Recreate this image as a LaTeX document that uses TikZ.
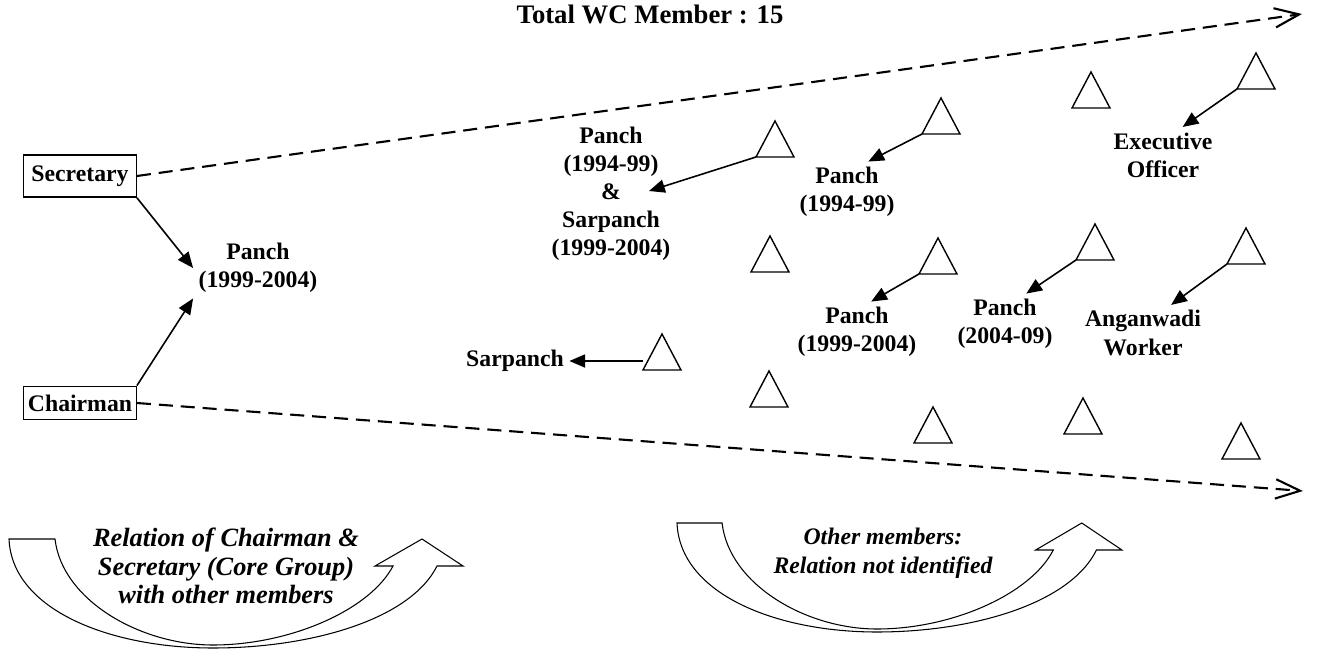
\documentclass[tikz,border=0pt]{standalone}
\usepackage{fontspec}
\setmainfont{Liberation Serif}
\usetikzlibrary{arrows.meta}
\tikzset{
  member/.pic={
    \draw[line width=0.8pt] (0,0) -- (19,-36) -- (38,0) -- cycle;
    \coordinate (-bl) at (0,0);
    \coordinate (-side) at (0,-9);
  },
  bigarrow/.pic={
    \draw[line width=0.6pt] (0,0) -- (46,0)
      .. controls (53,61) and (131,106) .. (204,106)
      .. controls (281,106) and (361,71) .. (384,27)
      -- (366,27) -- (413,0) -- (454,27) -- (428,27)
      .. controls (401,81) and (301,109) .. (204,109)
      .. controls (101,109) and (3,71) .. (0,0) -- cycle;
  }
}

\begin{document}
\begin{tikzpicture}[
      x=0.02cm, y=-0.02cm,
      every node/.style={font=\fontsize{13.5}{16}\selectfont\bfseries,align=center,inner sep=3pt},
      role/.style={draw,line width=0.8pt,inner xsep=2pt,minimum width=64pt,minimum height=19pt},
      link/.style={-{Triangle[length=9pt,width=7.5pt]},line width=0.9pt},
      reach/.style={line width=1.2pt,dash pattern=on 8pt off 4.5pt,-{Straight Barb[length=14pt,width=11pt]}},
      note/.style={font=\fontsize{13.5}{16.4}\selectfont\bfseries\itshape}
    ]
      \useasboundingbox (0,0) rectangle (1333,649);

      \node[font=\fontsize{15.2}{18}\selectfont\bfseries] (title) at (650,14) {Total WC Member : 15};

      % core group
      \node[role,minimum height=24pt] (sec) at (80,176) {Secretary};
      \node[role] (chair) at (80,403) {Chairman};
      \node (p0) at (258,268) {Panch\\(1999-2004)};

      % other members
      \pic (tA) at (756,157) {member};
      \pic (tB) at (751,272) {member};
      \pic (tC) at (643,370) {member};
      \pic (tD) at (750,407) {member};
      \pic (tE) at (922,134) {member};
      \pic (tF) at (1072,108) {member};
      \pic (tG) at (1237,89) {member};
      \pic (tH) at (919,274) {member};
      \pic (tI) at (1076,260) {member};
      \pic (tJ) at (1227,264) {member};
      \pic (tK) at (914,443) {member};
      \pic (tL) at (1064,434) {member};
      \pic (tM) at (1222,459) {member};

      \node (p1) at (611,194) {Panch\\(1994-99)\\\&\\Sarpanch\\(1999-2004)};
      \node (sarp) at (515,361) {Sarpanch};
      \node (p2) at (847,192) {Panch\\(1994-99)};
      \node (exec) at (1163,155) {Executive\\Officer};
      \node (p3) at (857,332) {Panch\\(1999-2004)};
      \node (p4) at (1005,324) {Panch\\(2004-09)};
      \node (angan) at (1143,333) {Anganwadi\\Worker};

      \coordinate (topend) at (1302,14);
      \coordinate (botend) at (1303,491);
      \draw[reach] (sec.east) -- (topend);
      \draw[reach] (chair.east) -- (botend);

      \draw[link] (sec.south east) -- (p0.west);
      \draw[link] (chair.north east) -- (p0.south west);
      \draw[link] (tA-bl) -- ([xshift=0.76cm,yshift=0.06cm]p1.center);
      \draw[link] (tC-side) -- (sarp);
      \draw[link] (tE-bl) -- (p2.55);
      \draw[link] (tG-bl) -- (exec.55);
      \draw[link] (tH-bl) -- (p3.65);
      \draw[link] (tI-bl) -- (p4.55);
      \draw[link] (tJ-bl) -- (angan.45);

      % bottom notes
      \pic (arrowL) at (9,539) {bigarrow};
      \pic[xscale=0.98] (arrowR) at (677,523) {bigarrow};
      \node[note,font=\fontsize{15}{16.4}\selectfont\bfseries\itshape] (coreRel) at (226,566) {Relation of Chairman \&\\Secretary (Core Group)\\with other members};
      \node[note] (otherRel) at (883,553) {Other members:\\Relation not identified};
    \end{tikzpicture}
\end{document}
